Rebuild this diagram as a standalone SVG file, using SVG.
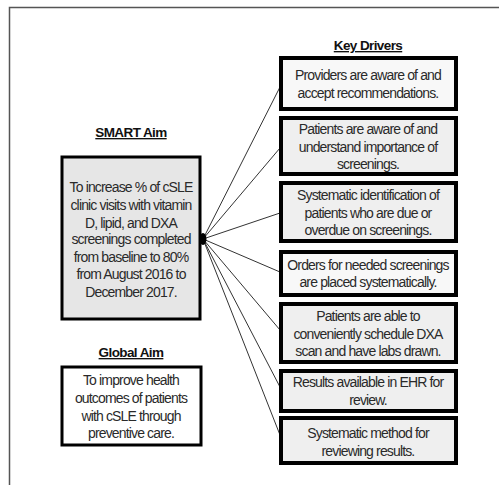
<svg xmlns="http://www.w3.org/2000/svg" width="499" height="485" viewBox="0 0 499 485">
<style>
.t{font-family:"Liberation Sans",Arial,sans-serif;font-size:14px;fill:#2a2a2a;text-anchor:middle;letter-spacing:-0.85px}
.h{font-family:"Liberation Sans",Arial,sans-serif;font-size:13.5px;font-weight:bold;fill:#111;text-anchor:middle;text-decoration:underline;letter-spacing:-0.6px}
.kd{stroke:#000;stroke-width:4}
.c{stroke:#333;stroke-width:1;fill:none}
</style>
<rect width="499" height="485" fill="#fff"/>
<path d="M9.5 485 V7.5 H499" fill="none" stroke="#555" stroke-width="1.5"/>
<g id="connectors">
<line class="c" x1="203" y1="239" x2="280" y2="87"/>
<line class="c" x1="203" y1="239" x2="280" y2="148"/>
<line class="c" x1="203" y1="239" x2="280" y2="213"/>
<line class="c" x1="203" y1="239" x2="280" y2="272"/>
<line class="c" x1="203" y1="239" x2="280" y2="330"/>
<line class="c" x1="203" y1="239" x2="280" y2="387"/>
<line class="c" x1="203" y1="239" x2="280" y2="435"/>
<ellipse cx="203" cy="239" rx="3.5" ry="6" fill="#000"/>
</g>
<g id="key-drivers-title"><text class="h" x="368" y="50">Key Drivers</text></g>
<g id="smart-aim">
<text class="h" x="131" y="137">SMART Aim</text>
<rect x="62" y="157" width="138" height="162" fill="#e6e6e6" stroke="#000" stroke-width="3"/>
<text class="t" x="131" y="192">To increase % of cSLE</text>
<text class="t" x="131" y="210">clinic visits with vitamin</text>
<text class="t" x="131" y="228">D, lipid, and DXA</text>
<text class="t" x="131" y="244">screenings completed</text>
<text class="t" x="131" y="262">from baseline to 80%</text>
<text class="t" x="131" y="279">from August 2016 to</text>
<text class="t" x="131" y="297">December 2017.</text>
</g>
<g id="global-aim">
<text class="h" x="131" y="357">Global Aim</text>
<rect x="62" y="367" width="139" height="78" fill="#fff" stroke="#000" stroke-width="3"/>
<text class="t" x="131" y="385">To improve health</text>
<text class="t" x="131" y="403">outcomes of patients</text>
<text class="t" x="131" y="421">with cSLE through</text>
<text class="t" x="131" y="438">preventive care.</text>
</g>
<g id="kd1">
<rect class="kd" x="281" y="58" width="175" height="51" fill="#f8f8f8"/>
<text class="t" x="368" y="80">Providers are aware of and</text>
<text class="t" x="368" y="98">accept recommendations.</text>
</g>
<g id="kd2">
<rect class="kd" x="281" y="118" width="175" height="56" fill="#efefef"/>
<text class="t" x="368" y="134">Patients  are aware of and</text>
<text class="t" x="368" y="152">understand importance of</text>
<text class="t" x="368" y="169">screenings.</text>
</g>
<g id="kd3">
<rect class="kd" x="281" y="183" width="175" height="58" fill="#efefef"/>
<text class="t" x="368" y="200">Systematic identification  of</text>
<text class="t" x="368" y="218">patients who are due or</text>
<text class="t" x="368" y="235">overdue on screenings.</text>
</g>
<g id="kd4">
<rect class="kd" x="281" y="252" width="175" height="43" fill="#f8f8f8"/>
<text class="t" x="368" y="270">Orders for needed screenings</text>
<text class="t" x="368" y="287">are placed systematically.</text>
</g>
<g id="kd5">
<rect class="kd" x="281" y="304" width="175" height="58" fill="#efefef"/>
<text class="t" x="368" y="321">Patients  are able to</text>
<text class="t" x="368" y="339">conveniently schedule DXA</text>
<text class="t" x="368" y="356">scan and have labs drawn.</text>
</g>
<g id="kd6">
<rect class="kd" x="281" y="371" width="175" height="40" fill="#efefef"/>
<text class="t" x="368" y="387">Results available in EHR for</text>
<text class="t" x="368" y="405">review.</text>
</g>
<g id="kd7">
<rect class="kd" x="281" y="418" width="175" height="45" fill="#efefef"/>
<text class="t" x="368" y="438">Systematic  method for</text>
<text class="t" x="368" y="456">reviewing results.</text>
</g>
</svg>
